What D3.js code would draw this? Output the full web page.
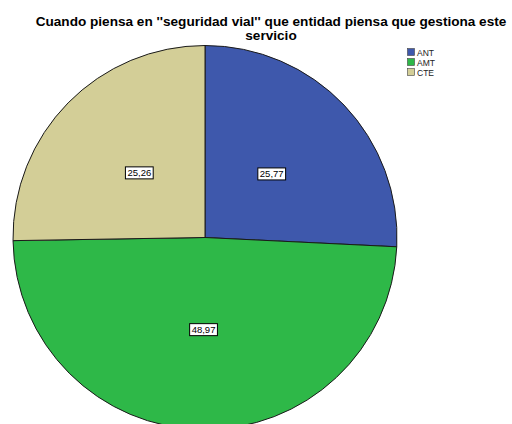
<!DOCTYPE html>
<html><head><meta charset="utf-8">
<script src="https://cdn.jsdelivr.net/npm/d3@7"></script>
<style>body{margin:0;background:#fff}svg{display:block}</style>
</head><body>
<svg id="c" width="512" height="424"></svg>
<script>
const categories = ["ANT", "AMT", "CTE"];
const values = [25.77, 48.97, 25.26];
const labels = ["25,77", "48,97", "25,26"];
const colors = ["#3E58AC", "#2EB848", "#D3CE97"];
const titleLines = ["Cuando piensa en ''seguridad vial'' que entidad piensa que gestiona este", "servicio"];

const svg = d3.select("#c");
const cx = 205, cy = 237.5, R = 192;

titleLines.forEach((t, i) => svg.append("text").attr("x", 271).attr("y", 26 + i * 14)
  .attr("text-anchor", "middle").attr("font-family", "Liberation Sans, Arial, sans-serif")
  .attr("font-size", 13.6).attr("font-weight", "bold").attr("fill", "#000").text(t));

const pie = d3.pie().sort(null).value(d => d)(values);
const arc = d3.arc().innerRadius(0).outerRadius(R);
const labArc = d3.arc().innerRadius(R * 0.48).outerRadius(R * 0.48);
const g = svg.append("g").attr("transform", `translate(${cx},${cy})`);
g.selectAll("path").data(pie).join("path")
  .attr("d", arc).attr("fill", (d, i) => colors[i])
  .attr("stroke", "#1a1a1a").attr("stroke-width", 1);

pie.forEach((d, i) => {
  const [x, y] = labArc.centroid(d);
  const t = g.append("text").attr("x", x).attr("y", y + 3.5)
    .attr("text-anchor", "middle").attr("font-family", "Liberation Sans, Arial, sans-serif")
    .attr("font-size", 9.5).attr("fill", "#000").text(labels[i]);
  const bb = t.node().getBBox();
  g.insert("rect", () => t.node()).attr("x", bb.x - 2).attr("y", bb.y - 0.5)
    .attr("width", bb.width + 4).attr("height", bb.height + 1)
    .attr("fill", "#fff").attr("stroke", "#000").attr("stroke-width", 1);
});

const lg = svg.append("g").attr("transform", "translate(407,48)");
categories.forEach((c, i) => {
  lg.append("rect").attr("x", 0.5).attr("y", i * 10 + 0.5).attr("width", 7).attr("height", 7)
    .attr("fill", colors[i]).attr("stroke", "#444").attr("stroke-width", 0.6);
  lg.append("text").attr("x", 10).attr("y", i * 10 + 7.5)
    .attr("font-family", "Liberation Sans, Arial, sans-serif").attr("font-size", 8.5)
    .attr("fill", "#222").text(c);
});
</script>
</body></html>
